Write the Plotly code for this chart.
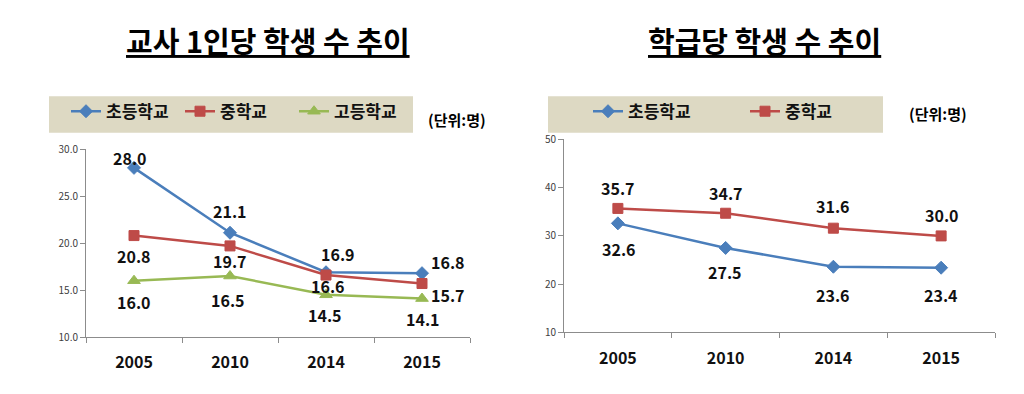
import plotly.graph_objects as go

W, H = 1024, 394

# ---------------- data ----------------
years = ["2005", "2010", "2014", "2015"]

# 교사 1인당 학생 수
tpr_elem = [28.0, 21.1, 16.9, 16.8]
tpr_mid = [20.8, 19.7, 16.6, 15.7]
tpr_high = [16.0, 16.5, 14.5, 14.1]

# 학급당 학생 수
cls_elem = [32.6, 27.5, 23.6, 23.4]
cls_mid = [35.7, 34.7, 31.6, 30.0]

title_left = "교사 1인당 학생 수 추이"
title_right = "학급당 학생 수 추이"
unit_text = "(단위:명)"
names = ["초등학교", "중학교", "고등학교"]

# ---------------- style ----------------
BLUE = "#4A7EBB"
RED = "#BE4B48"
GREEN = "#98B954"
AXIS = "#8C8C8C"
LEGBG = "#DDD9C3"
FONT = "Noto Sans CJK KR"

def px(x):
    return x / W

def py(y):
    return 1 - y / H

fig = go.Figure()

def add_series(xa, ya, yvals, name, color, symbol, msize, legend, showlegend=True):
    fig.add_trace(go.Scatter(
        x=years, y=yvals, name=name, mode="lines+markers",
        line=dict(color=color, width=2.5),
        marker=dict(symbol=symbol, size=msize, color=color,
                    line=dict(color=color, width=1)),
        xaxis=xa, yaxis=ya, legend=legend, showlegend=showlegend,
        hoverinfo="skip",
    ))

add_series("x", "y", tpr_elem, names[0], BLUE, "diamond", 10, "legend")
add_series("x", "y", tpr_mid, names[1], RED, "square", 10, "legend")
add_series("x", "y", tpr_high, names[2], GREEN, "triangle-up", 11, "legend")
add_series("x2", "y2", cls_elem, names[0], BLUE, "diamond", 10, "legend2")
add_series("x2", "y2", cls_mid, names[1], RED, "square", 10, "legend2")

# data label offsets (pixels) per series
label_style = [
    ("x", "y", tpr_elem, [(-4, 10), (0, 22), (12, 18), (26, 11)]),
    ("x", "y", tpr_mid, [(0, -20), (0, -15), (2, -11), (26, -11)]),
    ("x", "y", tpr_high, [(0, -21), (-2, -24), (-1, -20), (1, -20)]),
    ("x2", "y2", cls_mid, [(0, 20), (0, 20), (0, 22), (1, 21)]),
    ("x2", "y2", cls_elem, [(1, -26), (-1, -24), (0, -28), (0, -27)]),
]
annotations = []
for xa, ya, vals, offs in label_style:
    for i, (v, (dx, dy)) in enumerate(zip(vals, offs)):
        annotations.append(dict(
            x=i, y=v, xref=xa, yref=ya, text=f"<b>{v:.1f}</b>",
            showarrow=False, xshift=dx, yshift=dy,
            font=dict(family=FONT, size=16, color="#111111"),
        ))

# titles
for txt, cx in [(title_left, 268), (title_right, 764)]:
    annotations.append(dict(
        x=px(cx), y=py(32), xref="paper", yref="paper", text=f"<b>{txt}</b>",
        showarrow=False, xanchor="center", yanchor="middle",
        font=dict(family=FONT, size=29, color="#000000", lineposition="under"),
    ))

# unit labels
for cx, cy in [(457, 115), (938, 109)]:
    annotations.append(dict(
        x=px(cx), y=py(cy), xref="paper", yref="paper", text=f"<b>{unit_text}</b>",
        showarrow=False, xanchor="center", yanchor="middle",
        font=dict(family=FONT, size=15, color="#000000"),
    ))

shapes = [
    dict(type="rect", xref="paper", yref="paper", x0=px(49), x1=px(413),
         y0=py(129), y1=py(91), fillcolor=LEGBG, line=dict(width=0), layer="below"),
    dict(type="rect", xref="paper", yref="paper", x0=px(548), x1=px(883),
         y0=py(129), y1=py(91), fillcolor=LEGBG, line=dict(width=0), layer="below"),
]

xcommon = dict(type="category", range=[-0.5, 3.5], showline=True, linecolor=AXIS,
               linewidth=1, ticks="outside", tickson="boundaries", ticklen=5,
               tickcolor=AXIS, showgrid=False, zeroline=False, ticklabelstandoff=11,
               tickfont=dict(family=FONT, size=16, color="#111111", weight="bold"))
ycommon = dict(showline=True, linecolor=AXIS, linewidth=1, ticks="outside",
               ticklen=5, tickcolor=AXIS, showgrid=False, zeroline=False,
               tickfont=dict(family=FONT, size=10, color="#404040"))

legcommon = dict(orientation="h", bgcolor="rgba(0,0,0,0)", borderwidth=0,
                 font=dict(family=FONT, size=17, color="#111111", weight="bold"),
                 yanchor="middle", xanchor="left", entrywidthmode="pixels",
                 itemclick=False, itemdoubleclick=False)

fig.update_layout(
    width=W, height=H, margin=dict(l=0, r=0, t=0, b=0),
    paper_bgcolor="white", plot_bgcolor="white",
    showlegend=True,
    xaxis=dict(domain=[px(86), px(470)], anchor="y", **xcommon),
    yaxis=dict(domain=[py(342), py(146)], anchor="x", range=[10, 30], dtick=5,
               tickformat=".1f", **ycommon),
    xaxis2=dict(domain=[px(564), px(995)], anchor="y2", **xcommon),
    yaxis2=dict(domain=[py(337), py(136)], anchor="x2", range=[10, 50], dtick=10,
                **ycommon),
    legend=dict(x=px(66), y=py(107), entrywidth=69, **legcommon),
    legend2=dict(x=px(588), y=py(107), entrywidth=112, **legcommon),
    annotations=annotations,
    shapes=shapes,
)

fig.write_html("out.html", config={"displayModeBar": False},
               post_script="document.body.style.margin='0';")
